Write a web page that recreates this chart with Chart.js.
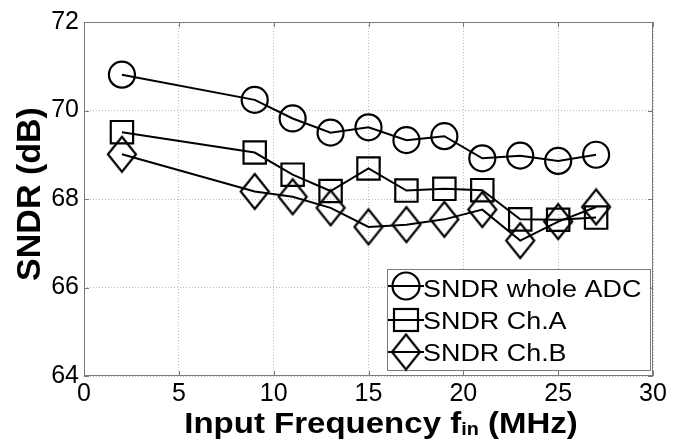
<!DOCTYPE html>
<html lang="en">
<head>
    <meta charset="UTF-8">
    <title>SNDR vs Input Frequency</title>
    <script src="https://cdn.jsdelivr.net/npm/chart.js"></script>
    <style>
        html, body { margin: 0; padding: 0; background: #fff; }
        #wrap { width: 674px; height: 441px; }
    </style>
</head>
<body>
    <div id="wrap"><canvas id="sndrChart" width="674" height="441"></canvas></div>

    <script>
        // values (MHz / dB)
        const freqs = [2, 9, 11, 13, 15, 17, 19, 21, 23, 25, 27];
        const sndrWhole = [70.81, 70.24, 69.82, 69.50, 69.62, 69.33, 69.42, 68.92, 68.98, 68.86, 69.00];
        const sndrChA = [69.51, 69.05, 68.55, 68.18, 68.69, 68.19, 68.23, 68.20, 67.54, 67.53, 67.58];
        const sndrChB = [69.01, 68.17, 68.05, 67.80, 67.37, 67.42, 67.54, 67.76, 67.06, 67.49, 67.82];
        const seriesNames = ['SNDR whole ADC', 'SNDR Ch.A', 'SNDR Ch.B'];
        const xTicks = [0, 5, 10, 15, 20, 25, 30];
        const yTicks = [64, 66, 68, 70, 72];

        const FONT = '"Liberation Sans", Arial, Helvetica, sans-serif';

        // diamond marker is taller than wide, so build it as a small canvas
        function diamondImg(w, h, lw) {
            const c = document.createElement('canvas');
            c.width = w + lw * 2;
            c.height = h + lw * 2;
            const g = c.getContext('2d');
            const cx = c.width / 2, cy = c.height / 2;
            g.lineWidth = lw;
            g.strokeStyle = '#000';
            g.beginPath();
            g.moveTo(cx, cy - h / 2);
            g.lineTo(cx + w / 2, cy);
            g.lineTo(cx, cy + h / 2);
            g.lineTo(cx - w / 2, cy);
            g.closePath();
            g.stroke();
            return c;
        }
        const diamond = diamondImg(28, 35, 2.2);

        function toPoints(ys) {
            return freqs.map((f, i) => ({ x: f, y: ys[i] }));
        }

        function drawParts(ctx, parts, cx, baseY, sx) {
            let total = 0;
            parts.forEach(p => { ctx.font = p.font; p.w = ctx.measureText(p.t).width; total += p.w; });
            ctx.save();
            ctx.translate(cx - total * sx / 2, baseY);
            ctx.scale(sx, 1);
            let x = 0;
            parts.forEach(p => {
                ctx.font = p.font;
                ctx.fillText(p.t, x, p.dy || 0);
                x += p.w;
            });
            ctx.restore();
        }

        const matlabFrame = {
            id: 'matlabFrame',
            beforeDatasetsDraw(chart) {
                const { ctx, chartArea: a, scales } = chart;
                ctx.save();
                ctx.strokeStyle = '#7a7a7a';
                ctx.lineWidth = 1;
                ctx.strokeRect(a.left + 0.5, a.top + 0.5, a.right - a.left - 1, a.bottom - a.top - 1);
                // inward tick marks on all four sides
                ctx.beginPath();
                xTicks.forEach(v => {
                    const px = Math.round(scales.x.getPixelForValue(v)) + 0.5;
                    ctx.moveTo(px, a.bottom); ctx.lineTo(px, a.bottom - 5);
                    ctx.moveTo(px, a.top); ctx.lineTo(px, a.top + 5);
                });
                yTicks.forEach(v => {
                    const py = Math.round(scales.y.getPixelForValue(v)) + 0.5;
                    ctx.moveTo(a.left, py); ctx.lineTo(a.left + 5, py);
                    ctx.moveTo(a.right, py); ctx.lineTo(a.right - 5, py);
                });
                ctx.stroke();
                ctx.restore();
            },
            afterDraw(chart) {
                const { ctx, chartArea: a } = chart;
                ctx.save();
                ctx.fillStyle = '#000';
                ctx.textBaseline = 'alphabetic';

                // x axis title with subscript
                drawParts(ctx, [
                    { t: 'Input Frequency f', font: 'bold 30px ' + FONT },
                    { t: 'in', font: 'bold 18px ' + FONT, dy: 2 },
                    { t: ' (MHz)', font: 'bold 30px ' + FONT }
                ], 381, 433, 1.1);

                // y axis title
                ctx.save();
                ctx.translate(40, 194);
                ctx.rotate(-Math.PI / 2);
                ctx.font = 'bold 34px ' + FONT;
                ctx.textAlign = 'center';
                ctx.fillText('SNDR (dB)', 0, 0);
                ctx.restore();

                // legend box, lower right inside the axes
                const lx = a.right - 266, ly = 269, lw = 263, lh = 101;
                ctx.fillStyle = '#fff';
                ctx.fillRect(lx, ly, lw, lh);
                ctx.strokeStyle = '#7a7a7a';
                ctx.lineWidth = 1;
                ctx.strokeRect(lx + 0.5, ly + 0.5, lw, lh);

                const mx = lx + 19;
                const rows = [286, 320, 352];
                ctx.strokeStyle = '#000';
                ctx.lineWidth = 2;
                rows.forEach(ry => {
                    ctx.beginPath();
                    ctx.moveTo(mx - 18, ry);
                    ctx.lineTo(mx + 18, ry);
                    ctx.stroke();
                });
                ctx.lineWidth = 2.2;
                ctx.beginPath();
                ctx.arc(mx, rows[0], 13.5, 0, Math.PI * 2);
                ctx.stroke();
                ctx.strokeRect(mx - 12, rows[1] - 11, 24, 22);
                ctx.drawImage(diamond, mx - diamond.width / 2, rows[2] - diamond.height / 2);

                ctx.fillStyle = '#000';
                const textBase = [297, 329, 361];
                seriesNames.forEach((name, i) => {
                    ctx.save();
                    ctx.translate(lx + 36, textBase[i]);
                    ctx.scale(1.17, 1);
                    ctx.font = '23px ' + FONT;
                    ctx.fillText(name, 0, 0);
                    ctx.restore();
                });
                ctx.restore();
            }
        };

        const common = {
            showLine: true,
            borderColor: '#000',
            borderWidth: 2,
            backgroundColor: 'transparent',
            pointBackgroundColor: 'transparent',
            pointBorderColor: '#000',
            pointBorderWidth: 2.2,
            tension: 0
        };

        new Chart(document.getElementById('sndrChart'), {
            type: 'scatter',
            data: {
                datasets: [
                    Object.assign({ label: seriesNames[0], data: toPoints(sndrWhole), pointStyle: 'circle', pointRadius: 13 }, common),
                    Object.assign({ label: seriesNames[1], data: toPoints(sndrChA), pointStyle: 'rect', pointRadius: 15.8 }, common),
                    Object.assign({ label: seriesNames[2], data: toPoints(sndrChB), pointStyle: diamond, pointRadius: 14 }, common)
                ]
            },
            options: {
                responsive: false,
                animation: false,
                devicePixelRatio: 1,
                layout: { padding: { top: 22, right: 21, left: 0, bottom: 0 } },
                plugins: {
                    legend: { display: false },
                    tooltip: { enabled: false }
                },
                scales: {
                    x: {
                        type: 'linear',
                        min: 0,
                        max: 30,
                        afterFit: s => { s.height = 65; },
                        afterBuildTicks: s => { s.ticks = xTicks.map(v => ({ value: v })); },
                        ticks: { color: '#000', font: { family: FONT, size: 25 }, padding: 3, maxRotation: 0 },
                        grid: { color: '#bcbcbc', lineWidth: 1, drawTicks: false },
                        border: { display: false, dash: [1, 2] }
                    },
                    y: {
                        min: 64,
                        max: 72,
                        afterFit: s => { s.width = 84; },
                        afterBuildTicks: s => { s.ticks = yTicks.map(v => ({ value: v })); },
                        ticks: { color: '#000', font: { family: FONT, size: 25 }, padding: 5 },
                        grid: { color: '#bcbcbc', lineWidth: 1, drawTicks: false },
                        border: { display: false, dash: [1, 2] }
                    }
                }
            },
            plugins: [matlabFrame]
        });
    </script>
</body>
</html>
